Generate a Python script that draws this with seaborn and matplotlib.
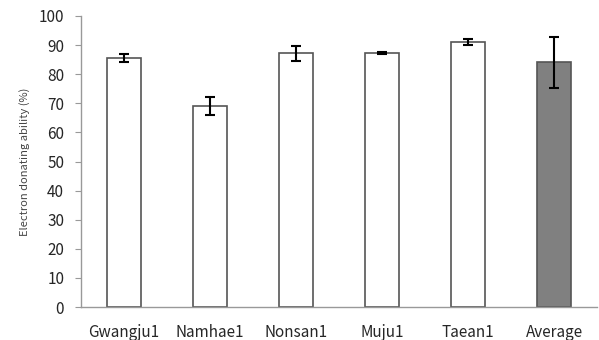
import numpy as np
import pandas as pd
import matplotlib
matplotlib.use("Agg")
import matplotlib.pyplot as plt
import seaborn as sns

# data
sites = ["Gwangju1", "Namhae1", "Nonsan1", "Muju1", "Taean1", "Average"]
ability = [85.5, 69.0, 87.2, 87.4, 91.1, 84.1]
err = [1.4, 3.0, 2.5, 0.3, 0.9, 8.7]
fills = ["white", "white", "white", "white", "white", "#808080"]

sns.set_style("white")
plt.rcParams["font.family"] = ["Noto Sans CJK KR", "DejaVu Sans"]

df = pd.DataFrame({"site": sites, "ability": ability})

fig = plt.figure(figsize=(5.99, 3.40), dpi=100)
ax = fig.add_axes([0.135, 0.097, 0.862, 0.856])

sns.barplot(data=df, x="site", y="ability", hue="site", palette=fills,
            width=0.4, edgecolor="#555555", linewidth=1.2, legend=False, ax=ax)
ax.errorbar(np.arange(len(sites)), ability, yerr=err, fmt="none",
            ecolor="black", elinewidth=1.5, capsize=3.5, capthick=1.5)

ax.set_xlim(-0.5, len(sites) - 0.5)
ax.set_ylim(0, 100)
ax.set_yticks(range(0, 101, 10))
ax.set_xticks(np.arange(len(sites)) + 0.5, minor=True)
ax.tick_params(axis="x", which="major", length=0, labelsize=11, pad=12)
ax.tick_params(axis="x", which="minor", length=4, color="#999999", direction="out")
ax.tick_params(axis="y", length=4, color="#999999", direction="out", labelsize=11,
               left=True, pad=8)
ax.set_xlabel("")
ax.set_ylabel("Electron donating ability (%)", fontsize=8, color="#444444", labelpad=6)

for s in ["top", "right"]:
    ax.spines[s].set_visible(False)
for s in ["left", "bottom"]:
    ax.spines[s].set_color("#999999")
    ax.spines[s].set_linewidth(1)

fig.savefig("out.png", dpi=100)
